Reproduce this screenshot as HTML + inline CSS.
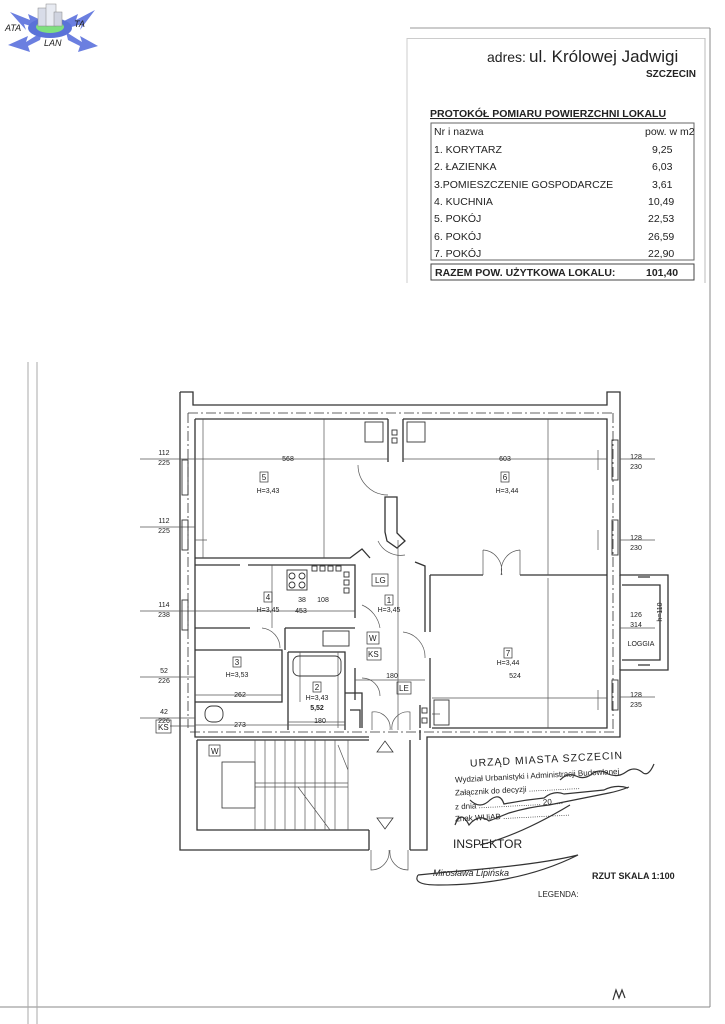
<!DOCTYPE html>
<html><head><meta charset="utf-8"><style>
html,body{margin:0;padding:0;background:#fff;width:725px;height:1024px;overflow:hidden}
svg{display:block}
text{font-family:"Liberation Sans",sans-serif;fill:#222}
</style></head><body>
<svg width="725" height="1024" viewBox="0 0 725 1024" xmlns="http://www.w3.org/2000/svg">
<rect width="725" height="1024" fill="#fff"/>
<g>
<polygon points="10,12 30,20 28,14 45,22 38,28 24,24 26,30" fill="#6b7fe0"/>
<polygon points="8,45 28,36 26,42 42,32 40,40 28,46 30,52" fill="#6b7fe0"/>
<polygon points="95,10 76,20 78,14 62,22 68,28 82,24 80,30" fill="#6b7fe0"/>
<polygon points="98,46 80,36 82,42 66,32 68,40 80,46 78,52" fill="#6b7fe0"/>
<ellipse cx="50" cy="28" rx="22" ry="10" fill="#5a72d8"/>
<ellipse cx="50" cy="27" rx="14" ry="6" fill="#7fe07f"/>
<rect x="38" y="8" width="10" height="18" fill="#d8dce8" stroke="#888" stroke-width="0.5"/>
<rect x="46" y="4" width="10" height="22" fill="#e8ebf2" stroke="#888" stroke-width="0.5"/>
<rect x="54" y="12" width="8" height="14" fill="#d0d4e0" stroke="#888" stroke-width="0.5"/>
<text x="5" y="31" font-family="Liberation Serif" font-style="italic" font-size="9">ATA</text>
<text x="74" y="27" font-family="Liberation Serif" font-style="italic" font-size="9">TA</text>
<text x="44" y="46" font-family="Liberation Serif" font-style="italic" font-size="9">LAN</text>
</g>
<line x1="410" y1="28" x2="710" y2="28" stroke="#999" stroke-width="1"/>
<line x1="710" y1="28" x2="710" y2="1007" stroke="#888" stroke-width="1"/>
<line x1="0" y1="1007" x2="710" y2="1007" stroke="#888" stroke-width="1"/>
<line x1="28" y1="362" x2="28" y2="1024" stroke="#aaa" stroke-width="1"/>
<line x1="37" y1="362" x2="37" y2="1024" stroke="#aaa" stroke-width="1"/>
<text x="487" y="62" font-size="14">adres:</text>
<text x="529" y="62" font-size="17">ul. Królowej Jadwigi</text>
<text x="646" y="77" font-size="10" font-weight="bold">SZCZECIN</text>
<rect x="407" y="38" width="298" height="1" fill="#ccc"/>
<line x1="407" y1="38" x2="407" y2="283" stroke="#ccc"/>
<line x1="705" y1="38" x2="705" y2="283" stroke="#bbb"/>
<text x="430" y="117" font-size="10.5" font-weight="bold" text-decoration="underline">PROTOKÓŁ POMIARU POWIERZCHNI LOKALU</text>
<rect x="431" y="123" width="263" height="137" fill="none" stroke="#666"/>
<g font-size="10.5">
<text x="434" y="135">Nr i nazwa</text><text x="645" y="135">pow. w m2</text>
<text x="434" y="153">1. KORYTARZ</text><text x="652" y="153">9,25</text>
<text x="434" y="170">2. ŁAZIENKA</text><text x="652" y="170">6,03</text>
<text x="434" y="188">3.POMIESZCZENIE GOSPODARCZE</text><text x="652" y="188">3,61</text>
<text x="434" y="205">4. KUCHNIA</text><text x="648" y="205">10,49</text>
<text x="434" y="222">5. POKÓJ</text><text x="648" y="222">22,53</text>
<text x="434" y="240">6. POKÓJ</text><text x="648" y="240">26,59</text>
<text x="434" y="257">7. POKÓJ</text><text x="648" y="257">22,90</text>
</g>
<rect x="431" y="264" width="263" height="16" fill="none" stroke="#444"/>
<text x="435" y="276" font-size="10.5" font-weight="bold">RAZEM POW. UŻYTKOWA LOKALU:</text>
<text x="646" y="276" font-size="10.5" font-weight="bold">101,40</text>

<g fill="none" stroke="#333" stroke-width="1.3">
<path d="M180,392 H193 V405 H607 V392 H620 V575 H668 V670 H620 V737 H427 V850 H410"/>
<path d="M369,850 H180 V392"/>
<path d="M195,419 H388 M403,419 H607 V728 H432"/>
<path d="M195,419 V737 H369"/>
<path d="M188,413 H612 M188,413 V728 M190,732 H614 M613,413 V730" stroke-dasharray="10,3,2,3" stroke-width="0.8"/>
<path d="M195,558 H350 L362,549 L370,558"/>
<path d="M388,419 V462 M403,419 V462"/>
<path d="M385,497 H397 V533 L405,541 L397,548 L387,541 L385,532 Z"/>
<path d="M430,575 H483 M520,575 H607 M430,575 V632 M430,658 V728"/>
<path d="M415,562 L425,566 V632"/>
<path d="M248,565 H355 V605 M195,565 H240"/>
<path d="M195,628 H250 M285,628 H355 M285,628 V650 M195,650 H282 V702 H195 M288,652 H345 V730 M288,652 V730 M345,670 V693 H362 V728"/>
<path d="M355,605 V618 M355,668 V700"/>
<path d="M350,710 H360 V728 M420,705 V728 M420,730 V740"/>
<path d="M620,575 V670 M622,585 H660 V660 H622 M638,577 H650 M638,665 H650"/>
<path d="M197,740 H369 M197,740 V830 H369 M410,740 V830 M369,830 V850 M410,830 V850"/>
<rect x="222" y="762" width="33" height="46" stroke-width="0.8"/>
</g>
<g stroke="#555" stroke-width="0.7" fill="none">
<path d="M255,740 V830 M265,740 V830 M275,740 V830 M285,740 V830 M295,740 V830 M305,740 V830 M315,740 V830 M325,740 V830 M335,740 V830 M348,740 V830 M255,783 H348 M255,787 H348 M298,787 L330,830 M338,745 L348,770"/>
<path d="M358,465 A30,30 0 0 0 388,495"/>
<path d="M378,541 A25,25 0 0 0 405,555"/>
<path d="M483,575 V550 M483,550 A20,20 0 0 1 501,575 M520,575 V550 M520,550 A20,20 0 0 0 502,575"/>
<path d="M362,605 A30,30 0 0 1 380,628"/>
<path d="M403,632 A25,25 0 0 1 425,658"/>
<path d="M362,678 A18,18 0 0 1 380,696"/>
<path d="M372,730 V712 A16,16 0 0 1 390,730 M410,730 V712 A16,16 0 0 0 392,730"/>
<path d="M371,850 V870 A18,18 0 0 0 389,850 M408,850 V870 A18,18 0 0 1 390,850"/>
<path d="M262,628 A20,20 0 0 1 280,648"/>
<path d="M195,459 H388 M403,459 H607 M195,540 H207 M195,611 H355 M195,695 H282 M195,725 H345 M288,722 H345 M355,680 H425 M432,698 H607 M432,714 H440 M203,419 V558 M324,419 V558 M548,419 V575 M548,578 V728 M272,565 V628 M300,652 V702 M338,652 V728 M598,450 V470 M598,530 V550 M598,690 V710 M398,540 V730"/>
<path d="M620,459 H655 M620,540 H655 M620,628 H655 M620,697 H655 M140,459 H195 M140,527 H195 M140,611 H195 M140,677 H195 M140,718 H195 M170,726 H195"/>
</g>
<g stroke="#333" stroke-width="0.9" fill="none">
<rect x="365" y="422" width="18" height="20"/><rect x="407" y="422" width="18" height="20"/>
<rect x="392" y="430" width="5" height="5"/><rect x="392" y="438" width="5" height="5"/>
<rect x="287" y="570" width="20" height="20"/><circle cx="292" cy="576" r="3"/><circle cx="302" cy="576" r="3"/><circle cx="292" cy="585" r="3"/><circle cx="302" cy="585" r="3"/>
<rect x="312" y="566" width="5" height="5"/><rect x="320" y="566" width="5" height="5"/><rect x="328" y="566" width="5" height="5"/><rect x="336" y="566" width="5" height="5"/>
<rect x="344" y="572" width="5" height="5"/><rect x="344" y="580" width="5" height="5"/><rect x="344" y="588" width="5" height="5"/>
<rect x="323" y="631" width="26" height="15"/>
<rect x="293" y="656" width="48" height="20" rx="6"/>
<rect x="205" y="706" width="18" height="16" rx="7"/>
<rect x="422" y="708" width="5" height="5"/><rect x="422" y="718" width="5" height="5"/>
<rect x="434" y="700" width="15" height="25"/>
<rect x="182" y="600" width="6" height="30"/><rect x="182" y="460" width="6" height="35"/><rect x="182" y="520" width="6" height="30"/>
<rect x="612" y="440" width="6" height="40"/><rect x="612" y="520" width="6" height="35"/><rect x="612" y="680" width="6" height="30"/>
</g>
<g font-size="7" text-anchor="middle">
<text x="288" y="461">568</text><text x="505" y="461">603</text>
<text x="301" y="613">453</text><text x="240" y="697">262</text><text x="240" y="727">273</text>
<text x="320" y="723">180</text><text x="392" y="678">180</text><text x="515" y="678">524</text>
<text x="323" y="602">108</text><text x="302" y="602">38</text>
<rect x="260" y="472" width="8" height="10" fill="none" stroke="#333" stroke-width="0.7"/><text x="264" y="480" font-size="8">5</text>
<text x="268" y="493">H=3,43</text>
<rect x="501" y="472" width="8" height="10" fill="none" stroke="#333" stroke-width="0.7"/><text x="505" y="480" font-size="8">6</text>
<text x="507" y="493">H=3,44</text>
<rect x="264" y="592" width="8" height="10" fill="none" stroke="#333" stroke-width="0.7"/><text x="268" y="600" font-size="8">4</text>
<text x="268" y="612">H=3,45</text>
<rect x="385" y="595" width="8" height="10" fill="none" stroke="#333" stroke-width="0.7"/><text x="389" y="603" font-size="8">1</text>
<text x="389" y="612">H=3,45</text>
<rect x="233" y="657" width="8" height="10" fill="none" stroke="#333" stroke-width="0.7"/><text x="237" y="665" font-size="8">3</text>
<text x="237" y="677">H=3,53</text>
<rect x="313" y="682" width="8" height="10" fill="none" stroke="#333" stroke-width="0.7"/><text x="317" y="690" font-size="8">2</text>
<text x="317" y="700">H=3,43</text><text x="317" y="710" font-weight="bold">5,52</text>
<rect x="504" y="648" width="8" height="10" fill="none" stroke="#333" stroke-width="0.7"/><text x="508" y="656" font-size="8">7</text>
<text x="508" y="665">H=3,44</text>
<text x="641" y="646">LOGGIA</text>
<text x="662" y="612" transform="rotate(-90 662 612)">h=110</text>
<text x="164" y="455">112</text><text x="164" y="465">225</text>
<text x="164" y="523">112</text><text x="164" y="533">225</text>
<text x="164" y="607">114</text><text x="164" y="617">238</text>
<text x="164" y="673">52</text><text x="164" y="683">226</text>
<text x="164" y="714">42</text><text x="164" y="723">226</text>
<text x="636" y="459">128</text><text x="636" y="469">230</text>
<text x="636" y="540">128</text><text x="636" y="550">230</text>
<text x="636" y="617">126</text><text x="636" y="627">314</text>
<text x="636" y="697">128</text><text x="636" y="707">235</text>
</g>
<g font-size="8">
<rect x="372" y="574" width="16" height="12" fill="none" stroke="#333" stroke-width="0.7"/><text x="375" y="583">LG</text>
<rect x="367" y="632" width="12" height="12" fill="none" stroke="#333" stroke-width="0.7"/><text x="369" y="641">W</text>
<rect x="367" y="648" width="14" height="12" fill="none" stroke="#333" stroke-width="0.7"/><text x="368" y="657">KS</text>
<rect x="397" y="682" width="14" height="12" fill="none" stroke="#333" stroke-width="0.7"/><text x="399" y="691">LE</text>
<rect x="156" y="720" width="15" height="13" fill="none" stroke="#333" stroke-width="0.7"/><text x="158" y="730">KS</text>
<rect x="209" y="745" width="11" height="11" fill="none" stroke="#333" stroke-width="0.7"/><text x="211" y="754">W</text>
</g>
<polygon points="377,752 385,741 393,752" fill="none" stroke="#333" stroke-width="0.8"/>
<polygon points="377,818 385,829 393,818" fill="none" stroke="#333" stroke-width="0.8"/>
<g fill="#333">
<text x="470" y="762" font-size="10.5" letter-spacing="1" transform="rotate(-3 560 762)">URZĄD MIASTA SZCZECIN</text>
<text x="455" y="777" font-size="8" fill="#666" transform="rotate(-3 560 777)">Wydział Urbanistyki i Administracji Budowlanej</text>
<text x="455" y="790" font-size="8" fill="#666" transform="rotate(-3 560 790)">Załącznik do decyzji .......................</text>
<text x="455" y="804" font-size="8" fill="#666" transform="rotate(-3 560 804)">z dnia ............................ 20.....</text>
<text x="455" y="816" font-size="8" fill="#666" transform="rotate(-3 560 816)">Znak WUiAB ..............................</text>
<text x="453" y="848" font-family="Liberation Serif" font-size="12" fill="#666">INSPEKTOR</text>
<text x="433" y="876" font-family="Liberation Serif" font-style="italic" font-size="9" fill="#777">Mirosława Lipińska</text>
<text x="592" y="879" font-size="9" font-weight="bold">RZUT  SKALA 1:100</text>
<text x="538" y="897" font-size="8">LEGENDA:</text>
</g>
<g fill="none" stroke="#333" stroke-width="1.2">
<path d="M560,780 q8,-8 16,-4 q8,4 16,-2 q8,-6 16,0 q10,4 18,-2 q8,-6 16,0 q6,6 12,-8"/>
<path d="M470,800 q10,10 20,0 q10,-8 14,4 q20,-4 40,-6 q10,-8 20,-4 q20,-2 40,-4 q12,-6 24,-2"/>
<path d="M455,825 q6,-16 14,0 q10,-12 20,-4 q10,-4 20,-8 q20,-6 40,-8 q10,-2 20,-4 q20,-4 40,-8 q10,-2 20,-6"/>
<path d="M480,845 q40,-10 90,-40"/>
<path d="M418,875 q-6,10 20,10 q80,0 140,-30 q-40,10 -130,17 q-30,3 -30,3"/>
<path d="M613,1000 l3,-10 l3,8 l3,-8 l3,8"/>
</g>
</svg>
</body></html>
